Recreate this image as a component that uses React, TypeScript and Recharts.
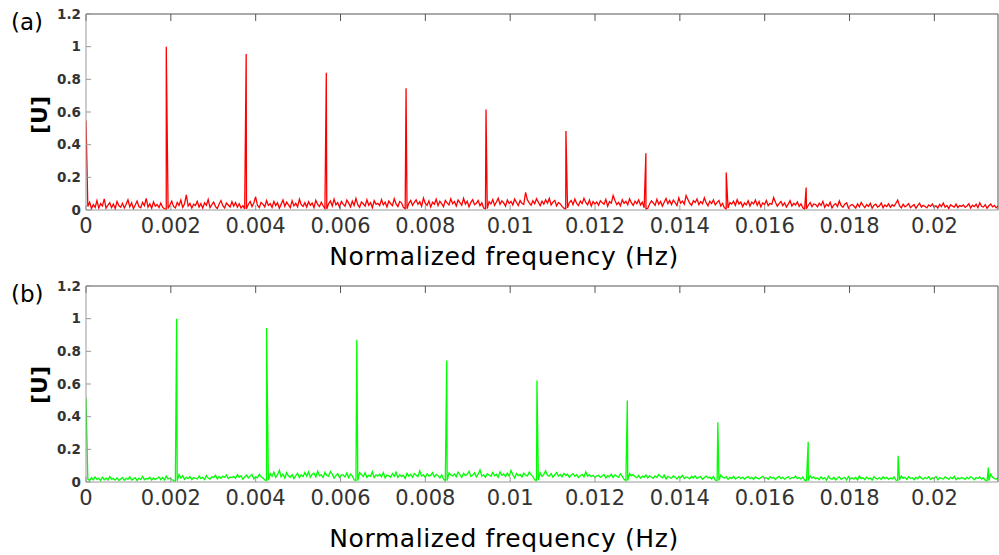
import React from 'react';
import { LineChart, Line, XAxis, YAxis } from 'recharts';

// frequency axis: 500 bins up to the right edge of the plot
const F_MAX = 0.0215;
const BIN = F_MAX / 500;

const freqTicks = [0, 0.002, 0.004, 0.006, 0.008, 0.01, 0.012, 0.014, 0.016, 0.018, 0.02];
const ampTicks = [0, 0.2, 0.4, 0.6, 0.8, 1, 1.2];

// harmonic lines, DC term first
const peakFreqA = [0, 0.001892, 0.003776, 0.005665, 0.007545, 0.00943, 0.011314, 0.013199, 0.015093, 0.016977];
const peakAmpA = [0.548, 1.0, 0.955, 0.84, 0.745, 0.615, 0.483, 0.348, 0.23, 0.137];

const peakFreqB = [0, 0.002137, 0.004257, 0.006384, 0.008504, 0.010631, 0.012761, 0.014895, 0.017025, 0.019145, 0.021272];
const peakAmpB = [0.515, 1.0, 0.943, 0.871, 0.744, 0.621, 0.499, 0.366, 0.247, 0.16, 0.088];

// noise floor, one value per bin (20 bins per row)
const noiseA = [
  .021, .048, .009, .033, .016, .057, .012, .039, .024, .068, .011, .029, .045, .014, .036, .008, .052, .027, .017, .041,
  .013, .035, .062, .019, .044, .009, .031, .055, .021, .014, .047, .026, .071, .018, .038, .011, .049, .023, .034, .015,
  .042, .017, .007, .005, .009, .031, .054, .022, .013, .046, .028, .061, .016, .037, .092, .024, .041, .012, .035, .027,
  .053, .018, .039, .011, .044, .029, .064, .015, .033, .048, .021, .009, .037, .058, .026, .013, .043, .031, .019, .051,
  .024, .046, .017, .038, .012, .027, .006, .008, .034, .052, .021, .043, .081, .029, .015, .047, .036, .019, .058, .028,
  .039, .016, .053, .027, .044, .011, .036, .062, .023, .048, .031, .014, .057, .025, .041, .019, .066, .033, .022, .045,
  .018, .051, .029, .043, .014, .059, .034, .021, .047, .026, .009, .006, .038, .055, .024, .067, .031, .046, .017, .052,
  .036, .023, .061, .042, .019, .054, .028, .071, .033, .016, .049, .038, .024, .063, .029, .045, .014, .057, .035, .041,
  .027, .064, .032, .048, .018, .055, .039, .026, .069, .037, .021, .052, .044, .016, .008, .007, .041, .058, .029, .047,
  .062, .034, .051, .023, .073, .041, .029, .056, .018, .047, .035, .066, .027, .053, .039, .021, .059, .044, .031, .068,
  .038, .052, .024, .061, .045, .029, .071, .036, .054, .019, .047, .063, .032, .041, .058, .026, .044, .012, .007, .009,
  .051, .037, .064, .028, .049, .072, .035, .056, .043, .024, .061, .039, .053, .031, .067, .046, .027, .058, .041, .034,
  .108, .062, .044, .029, .057, .038, .069, .047, .026, .054, .036, .063, .042, .071, .031, .048, .059, .025, .046, .037,
  .022, .011, .006, .013, .045, .058, .033, .067, .041, .027, .055, .039, .072, .046, .031, .061, .024, .052, .037, .049,
  .029, .057, .044, .036, .065, .023, .051, .042, .089, .058, .034, .047, .026, .063, .041, .053, .032, .069, .045, .028,
  .054, .039, .062, .031, .048, .014, .006, .011, .037, .056, .043, .028, .066, .035, .052, .024, .047, .071, .039, .058,
  .033, .061, .045, .027, .074, .042, .055, .036, .088, .064, .041, .029, .057, .046, .068, .032, .051, .038, .075, .044,
  .026, .053, .039, .062, .031, .047, .058, .024, .041, .013, .007, .012, .045, .036, .054, .028, .063, .037, .049, .021,
  .043, .031, .056, .024, .048, .037, .061, .029, .052, .019, .044, .033, .058, .026, .041, .035, .076, .047, .023, .039,
  .052, .027, .044, .018, .036, .057, .024, .041, .031, .049, .022, .038, .013, .006, .008, .029, .046, .021, .037, .033,
  .019, .042, .028, .053, .016, .035, .024, .047, .013, .031, .039, .021, .055, .027, .017, .036, .044, .012, .028, .033,
  .024, .012, .037, .019, .046, .028, .015, .033, .022, .041, .011, .029, .036, .018, .025, .043, .014, .031, .021, .038,
  .017, .032, .023, .041, .061, .026, .013, .035, .019, .028, .039, .014, .024, .033, .011, .027, .042, .018, .029, .021,
  .013, .031, .022, .037, .016, .026, .012, .034, .021, .043, .017, .028, .009, .032, .024, .018, .036, .015, .027, .022,
  .031, .016, .025, .038, .012, .029, .021, .035, .014, .044, .023, .018, .033, .011, .026, .037, .019, .028, .013, .024,
];

const noiseB = [
  .018, .009, .027, .013, .031, .016, .022, .008, .029, .014, .024, .011, .033, .017, .021, .012, .026, .009, .019, .028,
  .011, .023, .016, .032, .012, .019, .027, .009, .024, .015, .035, .013, .021, .018, .029, .011, .025, .016, .022, .031,
  .014, .027, .012, .036, .019, .023, .015, .009, .007, .008, .046, .024, .038, .016, .029, .021, .033, .014, .027, .022,
  .018, .037, .021, .029, .015, .039, .024, .017, .032, .027, .041, .019, .034, .023, .036, .028, .043, .021, .031, .026,
  .035, .022, .044, .029, .038, .017, .031, .042, .025, .036, .047, .019, .033, .026, .048, .032, .024, .012, .008, .011,
  .052, .034, .061, .028, .043, .072, .031, .049, .025, .057, .037, .029, .046, .021, .039, .053, .027, .044, .033, .058,
  .036, .062, .029, .047, .054, .031, .066, .038, .045, .027, .059, .041, .035, .064, .048, .023, .039, .051, .028, .044,
  .043, .031, .055, .026, .048, .037, .014, .008, .009, .058, .046, .033, .057, .028, .041, .035, .063, .027, .044, .036,
  .049, .031, .058, .025, .043, .038, .029, .052, .034, .061, .027, .045, .033, .041, .022, .054, .036, .047, .029, .052,
  .041, .033, .068, .037, .045, .028, .051, .036, .042, .058, .031, .047, .039, .025, .044, .018, .008, .009, .056, .043,
  .037, .049, .032, .061, .045, .028, .053, .039, .047, .066, .034, .042, .056, .031, .048, .074, .036, .044, .029, .051,
  .043, .035, .058, .038, .047, .029, .062, .041, .049, .033, .055, .036, .071, .044, .024, .052, .039, .046, .031, .054,
  .042, .037, .061, .045, .033, .014, .008, .012, .057, .034, .047, .069, .041, .036, .052, .029, .044, .058, .037, .046,
  .032, .053, .039, .048, .029, .042, .051, .035, .044, .027, .038, .047, .031, .062, .036, .045, .033, .041, .028, .037,
  .041, .028, .037, .046, .024, .039, .032, .048, .027, .043, .035, .029, .051, .034, .016, .008, .009, .052, .038, .045,
  .032, .027, .041, .023, .036, .029, .044, .025, .038, .031, .022, .037, .028, .047, .033, .026, .042, .019, .035, .028,
  .023, .037, .029, .018, .034, .026, .041, .022, .031, .027, .019, .035, .024, .038, .021, .029, .033, .017, .028, .036,
  .025, .031, .019, .034, .012, .007, .011, .042, .029, .024, .033, .016, .028, .021, .035, .018, .026, .032, .021, .029,
  .018, .027, .033, .021, .029, .016, .031, .024, .019, .028, .035, .022, .026, .017, .032, .023, .029, .015, .027, .034,
  .021, .029, .017, .026, .033, .019, .028, .024, .036, .021, .027, .018, .031, .011, .007, .009, .038, .024, .031, .019,
  .026, .014, .032, .019, .027, .011, .035, .022, .017, .029, .013, .025, .031, .016, .023, .028, .012, .034, .019, .026,
  .017, .029, .013, .036, .021, .026, .014, .031, .019, .024, .011, .033, .022, .018, .027, .015, .032, .021, .028, .016,
  .024, .019, .031, .012, .008, .013, .037, .022, .028, .016, .033, .021, .026, .014, .029, .019, .035, .023, .017, .027,
  .021, .032, .015, .026, .019, .034, .013, .027, .022, .018, .031, .024, .016, .029, .021, .036, .014, .025, .019, .028,
  .022, .016, .029, .019, .033, .024, .014, .027, .021, .031, .018, .025, .011, .007, .009, .048, .029, .022, .017, .026,
];

type Point = { f: number; v: number };

const buildSpectrum = (noise: number[], peakFreq: number[], peakAmp: number[]): Point[] => {
  const pts: Point[] = noise.map((v, i) => ({ f: (i + 1) * BIN, v }));
  peakFreq.forEach((f, i) => pts.push({ f, v: peakAmp[i] }));
  return pts.sort((a, b) => a.f - b.f);
};

const spectrumA = buildSpectrum(noiseA, peakFreqA, peakAmpA);
const spectrumB = buildSpectrum(noiseB, peakFreqB, peakAmpB);

const FONT = "'DejaVu Sans', sans-serif";
const noLabel = () => '';

const SpectrumPanel: React.FC<{ data: Point[]; color: string; height: number }> = ({ data, color, height }) => (
  <LineChart width={999} height={height} data={data} margin={{ top: 13, right: 0, bottom: 0, left: 0 }}>
    <XAxis
      dataKey='f'
      type='number'
      domain={[0, F_MAX]}
      ticks={freqTicks}
      interval={0}
      allowDataOverflow
      height={height - 14 - 196}
      tickSize={-5}
      tickMargin={13}
      stroke='#999'
      tick={{ fill: '#333', fontSize: 21, fontFamily: FONT }}
    />
    {/* box top, ticks pointing into the plot (axis needs a non-zero height to render) */}
    <XAxis
      xAxisId='top'
      orientation='top'
      dataKey='f'
      type='number'
      domain={[0, F_MAX]}
      ticks={freqTicks}
      interval={0}
      allowDataOverflow
      height={1}
      tickSize={-7}
      tickFormatter={noLabel}
      stroke='#555'
    />
    <YAxis
      domain={[0, 1.2]}
      ticks={ampTicks}
      interval={0}
      width={86}
      tickSize={-5}
      tickMargin={10}
      stroke='#999'
      tick={{ fill: '#333', fontSize: 13.5, fontWeight: 'bold', fontFamily: FONT }}
    />
    <YAxis
      yAxisId='right'
      orientation='right'
      domain={[0, 1.2]}
      ticks={ampTicks}
      interval={0}
      width={1}
      tickSize={-5}
      tickFormatter={noLabel}
      stroke='#555'
    />
    <Line type='linear' dataKey='v' stroke={color} strokeWidth={1.3} dot={false} isAnimationActive={false} />
  </LineChart>
);

const App: React.FC = () => (
  <div style={{ position: 'relative', width: 999, height: 555, background: '#fff', fontFamily: FONT }}>
    <style>{'body{margin:0}'}</style>
    <div style={{ position: 'absolute', left: 0, top: 0 }}>
      <SpectrumPanel data={spectrumA} color='#ff0000' height={272} />
    </div>
    <div style={{ position: 'absolute', left: 0, top: 272 }}>
      <SpectrumPanel data={spectrumB} color='#00ff00' height={283} />
    </div>
    <svg width={999} height={555} style={{ position: 'absolute', left: 0, top: 0, pointerEvents: 'none' }}>
      <g fontFamily={FONT} fill='#000'>
        <text x={11} y={30} fontSize={23}>(a)</text>
        <text x={11} y={302} fontSize={23}>(b)</text>
        <text x={47} y={115} fontSize={22} fontWeight='bold' textAnchor='middle' transform='rotate(-90 47 115)'>[U]</text>
        <text x={47} y={385} fontSize={22} fontWeight='bold' textAnchor='middle' transform='rotate(-90 47 385)'>[U]</text>
        <text x={504} y={265} fontSize={25} letterSpacing={0.6} textAnchor='middle'>Normalized frequency (Hz)</text>
        <text x={504} y={547} fontSize={25} letterSpacing={0.6} textAnchor='middle'>Normalized frequency (Hz)</text>
      </g>
    </svg>
  </div>
);

export default App;
